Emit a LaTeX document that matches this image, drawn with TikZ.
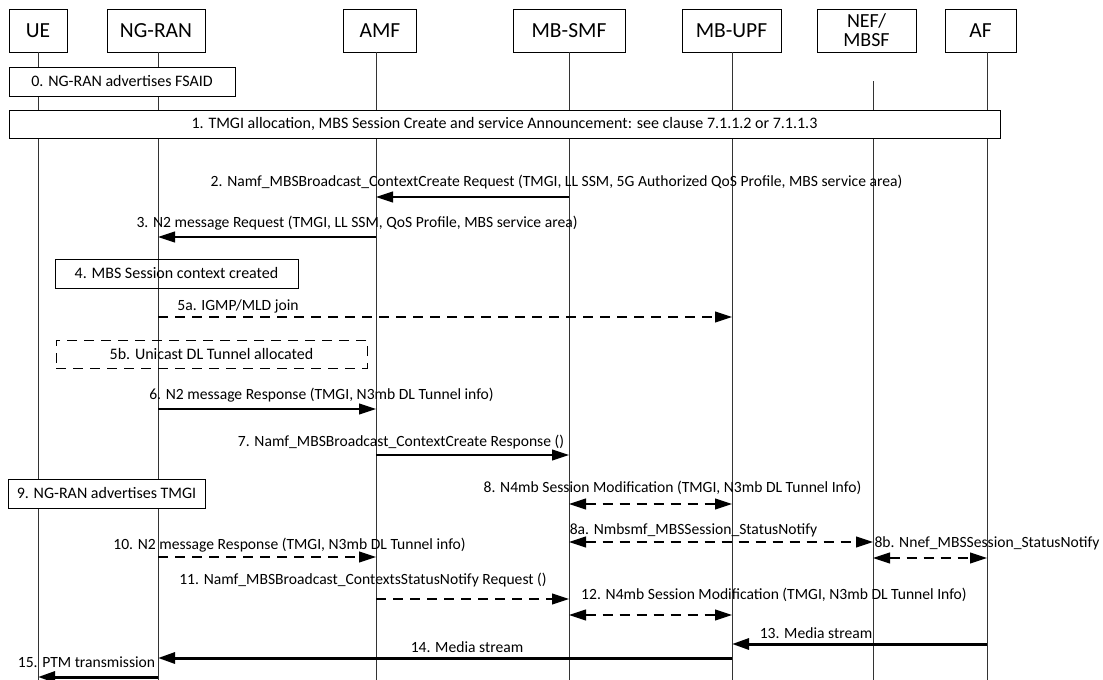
\documentclass[tikz,border=0pt]{standalone}
\usepackage{fontspec}
\setmainfont{Carlito}
\usetikzlibrary{positioning,arrows.meta}

\begin{document}
\begin{tikzpicture}[
			x=1pt,y=-1pt,
			entity/.style={draw,line width=0.9pt,minimum height=43pt,inner sep=0pt,font=\fontsize{21.5}{20}\selectfont},
			stepnote/.style={draw,line width=0.9pt,fill=white,inner sep=0pt,font=\fontsize{16}{18}\selectfont},
			lbl/.style={inner sep=0pt,font=\fontsize{15.6}{17}\selectfont},
			life/.style={draw=black!80,line width=1pt},
			tip/.tip={Triangle[length=17pt,width=11pt]},
			msg/.style={line width=1.1pt,-tip},
			dmsg/.style={msg,dash pattern=on 10pt off 7pt},
			bmsg/.style={line width=1.1pt,dash pattern=on 10pt off 7pt,tip-tip},
			media/.style={line width=3pt,-tip}
			]
			
			\useasboundingbox (0,0) rectangle (1103,680);
			
			% entities
			\node[entity,minimum width=58pt] (ue) at (38,30.5) {UE};
			\node[entity,minimum width=98pt] (ngran) at (156,30.5) {NG-RAN};
			\node[entity,minimum width=73pt] (amf) at (380,30.5) {AMF};
			\node[entity,minimum width=112pt] (mbsmf) at (569,30.5) {MB-SMF};
			\node[entity,minimum width=99pt] (mbupf) at (731.5,30.5) {MB-UPF};
			\node[entity,minimum width=99pt,align=center,font=\fontsize{20}{19}\selectfont] (nef) at (866.5,30.5) {NEF/\\MBSF};
			\node[entity,minimum width=71pt] (af) at (980.5,30.5) {AF};
			
			% lifelines
			\coordinate (ueL) at (38,52);
			\coordinate (ngranL) at (158,52);
			\coordinate (amfL) at (376,52);
			\coordinate (smfL) at (569,52);
			\coordinate (upfL) at (732,52);
			\coordinate (nefL) at (873,81);
			\coordinate (afL) at (987,52);
			\coordinate (bottom) at (0,680);
			
			\draw[life] (ueL) -- (ueL |- bottom);
			\draw[life] (ngranL) -- (ngranL |- bottom);
			\draw[life] (amfL) -- (amfL |- bottom);
			\draw[life] (smfL) -- (smfL |- bottom);
			\draw[life] (upfL) -- (upfL |- bottom);
			\draw[life] (nefL) -- (nefL |- bottom);
			\draw[life] (afL) -- (afL |- bottom);
			
			% steps in boxes
			\node[stepnote,minimum width=226pt,minimum height=29pt] (s0) at (122,81.5)
			{0. NG-RAN advertises FSAID};
			\node[stepnote,minimum width=991pt,minimum height=28pt] (s1) at (504.5,124)
			{1. TMGI allocation, MBS Session Create and service Announcement: see clause 7.1.1.2 or 7.1.1.3};
			\node[stepnote,fill=none,minimum width=243pt,minimum height=29pt] (s4) at (176.5,273.5)
			{4. MBS Session context created};
			\node[stepnote,fill=none,dash pattern=on 10pt off 7pt,minimum width=311pt,minimum height=28pt] (s5b) at (211.5,354)
			{5b. Unicast DL Tunnel allocated};
			\node[stepnote,minimum width=197pt,minimum height=29pt] (s9) at (106.5,493.5)
			{9. NG-RAN advertises TMGI};
			
			% message rows
			\coordinate (m2) at (0,197);
			\coordinate (m3) at (0,237);
			\coordinate (m5a) at (0,317);
			\coordinate (m6) at (0,409);
			\coordinate (m7) at (0,455);
			\coordinate (m8) at (0,504);
			\coordinate (m8a) at (0,542);
			\coordinate (m8b) at (0,558);
			\coordinate (m10) at (0,557);
			\coordinate (m11) at (0,599);
			\coordinate (m12) at (0,615);
			\coordinate (m13) at (0,644);
			\coordinate (m14) at (0,658);
			\coordinate (m15) at (0,677);
			
			\draw[msg] (smfL |- m2) -- (amfL |- m2);
			\draw[msg] (amfL |- m3) -- (ngranL |- m3);
			\draw[dmsg] (ngranL |- m5a) -- (upfL |- m5a);
			\draw[msg] (ngranL |- m6) -- (amfL |- m6);
			\draw[msg] (amfL |- m7) -- (smfL |- m7);
			\draw[bmsg] (smfL |- m8) -- (upfL |- m8);
			\draw[bmsg] (smfL |- m8a) -- (nefL |- m8a);
			\draw[bmsg] (nefL |- m8b) -- (afL |- m8b);
			\draw[dmsg] (ngranL |- m10) -- (amfL |- m10);
			\draw[dmsg] (amfL |- m11) -- (smfL |- m11);
			\draw[bmsg] (smfL |- m12) -- (upfL |- m12);
			\draw[media] (afL |- m13) -- (upfL |- m13);
			\draw[media] (upfL |- m14) -- (ngranL |- m14);
			\draw[media] (ngranL |- m15) -- (ueL |- m15);
			
			% labels
			\node[lbl] (l2) at (556.5,182) {2. Namf\_MBSBroadcast\_ContextCreate Request (TMGI, LL SSM, 5G Authorized QoS Profile, MBS service area)};
			\node[lbl] (l3) at (357,223) {3. N2 message Request (TMGI, LL SSM, QoS Profile, MBS service area)};
			\node[lbl] (l5a) at (238,306) {5a. IGMP/MLD join};
			\node[lbl] (l6) at (321.5,395) {6. N2 message Response (TMGI, N3mb DL Tunnel info)};
			\node[lbl] (l7) at (401,442) {7. Namf\_MBSBroadcast\_ContextCreate Response ()};
			\node[lbl] (l8) at (672.5,488) {8. N4mb Session Modification (TMGI, N3mb DL Tunnel Info)};
			\node[lbl] (l8a) at (693.5,530) {8a. Nmbsmf\_MBSSession\_StatusNotify};
			\node[lbl] (l8b) at (987,543) {8b. Nnef\_MBSSession\_StatusNotify};
			\node[lbl] (l10) at (289.5,545) {10. N2 message Response (TMGI, N3mb DL Tunnel info)};
			\node[lbl] (l11) at (363,580) {11. Namf\_MBSBroadcast\_ContextsStatusNotify Request ()};
			\node[lbl] (l12) at (774,595) {12. N4mb Session Modification (TMGI, N3mb DL Tunnel Info)};
			\node[lbl] (l13) at (816,633) {13. Media stream};
			\node[lbl] (l14) at (467,647) {14. Media stream};
			\node[lbl] (l15) at (86.5,662) {15. PTM transmission};
			
		\end{tikzpicture}
\end{document}
